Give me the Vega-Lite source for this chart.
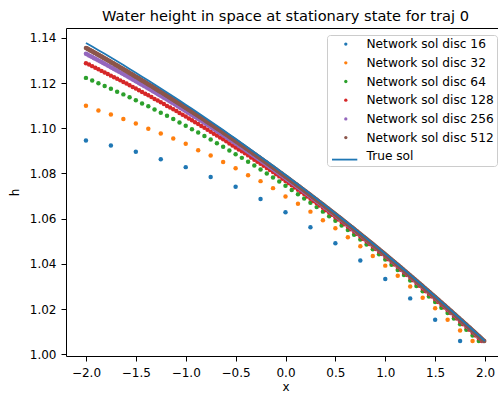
{
"$schema": "https://vega.github.io/schema/vega-lite/v6.json",
"width": 439, "height": 328,
"autosize": {"type": "none"},
"padding": {"left": 66, "top": 28, "right": 0, "bottom": 38},
"background": "white",
"title": {"text": "Water height in space at stationary state for traj 0", "font": "DejaVu Sans", "fontSize": 14.6, "fontWeight": "normal", "color": "black", "anchor": "middle", "offset": 4.5},
"datasets": {
"n16": [{"x":-2,"h":1.0946},{"x":-1.75,"h":1.0924},{"x":-1.5,"h":1.0896},{"x":-1.25,"h":1.0863},{"x":-1,"h":1.0828},{"x":-0.75,"h":1.0784},{"x":-0.5,"h":1.0741},{"x":-0.25,"h":1.0687},{"x":0,"h":1.0628},{"x":0.25,"h":1.0562},{"x":0.5,"h":1.0491},{"x":0.75,"h":1.0415},{"x":1,"h":1.0333},{"x":1.25,"h":1.0247},{"x":1.5,"h":1.0152},{"x":1.75,"h":1.0058}],
"n32": [{"x":-2,"h":1.1100},{"x":-1.875,"h":1.1079},{"x":-1.75,"h":1.1061},{"x":-1.625,"h":1.1041},{"x":-1.5,"h":1.1021},{"x":-1.375,"h":1.0998},{"x":-1.25,"h":1.0977},{"x":-1.125,"h":1.0955},{"x":-1,"h":1.0931},{"x":-0.875,"h":1.0903},{"x":-0.75,"h":1.0879},{"x":-0.625,"h":1.0851},{"x":-0.5,"h":1.0823},{"x":-0.375,"h":1.0792},{"x":-0.25,"h":1.0766},{"x":-0.125,"h":1.0735},{"x":0,"h":1.0698},{"x":0.125,"h":1.0666},{"x":0.25,"h":1.0631},{"x":0.375,"h":1.0593},{"x":0.5,"h":1.0557},{"x":0.625,"h":1.0518},{"x":0.75,"h":1.0478},{"x":0.875,"h":1.0435},{"x":1,"h":1.0392},{"x":1.125,"h":1.0347},{"x":1.25,"h":1.0300},{"x":1.375,"h":1.0250},{"x":1.5,"h":1.0203},{"x":1.625,"h":1.0152},{"x":1.75,"h":1.0105},{"x":1.875,"h":1.0058}],
"n64": [{"x":-2,"h":1.1223},{"x":-1.9375,"h":1.1211},{"x":-1.875,"h":1.1199},{"x":-1.8125,"h":1.1187},{"x":-1.75,"h":1.1175},{"x":-1.6875,"h":1.1162},{"x":-1.625,"h":1.1150},{"x":-1.5625,"h":1.1137},{"x":-1.5,"h":1.1124},{"x":-1.4375,"h":1.1110},{"x":-1.375,"h":1.1097},{"x":-1.3125,"h":1.1083},{"x":-1.25,"h":1.1069},{"x":-1.1875,"h":1.1055},{"x":-1.125,"h":1.1041},{"x":-1.0625,"h":1.1026},{"x":-1,"h":1.1011},{"x":-0.9375,"h":1.0996},{"x":-0.875,"h":1.0981},{"x":-0.8125,"h":1.0966},{"x":-0.75,"h":1.0950},{"x":-0.6875,"h":1.0934},{"x":-0.625,"h":1.0918},{"x":-0.5625,"h":1.0902},{"x":-0.5,"h":1.0885},{"x":-0.4375,"h":1.0869},{"x":-0.375,"h":1.0852},{"x":-0.3125,"h":1.0835},{"x":-0.25,"h":1.0817},{"x":-0.1875,"h":1.0800},{"x":-0.125,"h":1.0782},{"x":-0.0625,"h":1.0764},{"x":0,"h":1.0746},{"x":0.0625,"h":1.0727},{"x":0.125,"h":1.0708},{"x":0.1875,"h":1.0689},{"x":0.25,"h":1.0670},{"x":0.3125,"h":1.0651},{"x":0.375,"h":1.0631},{"x":0.4375,"h":1.0611},{"x":0.5,"h":1.0591},{"x":0.5625,"h":1.0570},{"x":0.625,"h":1.0550},{"x":0.6875,"h":1.0529},{"x":0.75,"h":1.0508},{"x":0.8125,"h":1.0486},{"x":0.875,"h":1.0464},{"x":0.9375,"h":1.0442},{"x":1,"h":1.0419},{"x":1.0625,"h":1.0396},{"x":1.125,"h":1.0373},{"x":1.1875,"h":1.0350},{"x":1.25,"h":1.0326},{"x":1.3125,"h":1.0302},{"x":1.375,"h":1.0279},{"x":1.4375,"h":1.0255},{"x":1.5,"h":1.0231},{"x":1.5625,"h":1.0206},{"x":1.625,"h":1.0182},{"x":1.6875,"h":1.0158},{"x":1.75,"h":1.0133},{"x":1.8125,"h":1.0108},{"x":1.875,"h":1.0083},{"x":1.9375,"h":1.0058}],
"n128": [{"x":-2,"h":1.1288},{"x":-1.96875,"h":1.1282},{"x":-1.9375,"h":1.1275},{"x":-1.90625,"h":1.1268},{"x":-1.875,"h":1.1261},{"x":-1.84375,"h":1.1254},{"x":-1.8125,"h":1.1247},{"x":-1.78125,"h":1.1240},{"x":-1.75,"h":1.1233},{"x":-1.71875,"h":1.1226},{"x":-1.6875,"h":1.1219},{"x":-1.65625,"h":1.1212},{"x":-1.625,"h":1.1205},{"x":-1.59375,"h":1.1198},{"x":-1.5625,"h":1.1190},{"x":-1.53125,"h":1.1183},{"x":-1.5,"h":1.1176},{"x":-1.46875,"h":1.1168},{"x":-1.4375,"h":1.1161},{"x":-1.40625,"h":1.1153},{"x":-1.375,"h":1.1146},{"x":-1.34375,"h":1.1138},{"x":-1.3125,"h":1.1130},{"x":-1.28125,"h":1.1123},{"x":-1.25,"h":1.1115},{"x":-1.21875,"h":1.1107},{"x":-1.1875,"h":1.1099},{"x":-1.15625,"h":1.1092},{"x":-1.125,"h":1.1084},{"x":-1.09375,"h":1.1076},{"x":-1.0625,"h":1.1068},{"x":-1.03125,"h":1.1060},{"x":-1,"h":1.1052},{"x":-0.96875,"h":1.1043},{"x":-0.9375,"h":1.1035},{"x":-0.90625,"h":1.1027},{"x":-0.875,"h":1.1019},{"x":-0.84375,"h":1.1010},{"x":-0.8125,"h":1.1002},{"x":-0.78125,"h":1.0993},{"x":-0.75,"h":1.0985},{"x":-0.71875,"h":1.0976},{"x":-0.6875,"h":1.0968},{"x":-0.65625,"h":1.0959},{"x":-0.625,"h":1.0951},{"x":-0.59375,"h":1.0942},{"x":-0.5625,"h":1.0933},{"x":-0.53125,"h":1.0924},{"x":-0.5,"h":1.0915},{"x":-0.46875,"h":1.0906},{"x":-0.4375,"h":1.0898},{"x":-0.40625,"h":1.0889},{"x":-0.375,"h":1.0880},{"x":-0.34375,"h":1.0870},{"x":-0.3125,"h":1.0861},{"x":-0.28125,"h":1.0852},{"x":-0.25,"h":1.0843},{"x":-0.21875,"h":1.0834},{"x":-0.1875,"h":1.0824},{"x":-0.15625,"h":1.0815},{"x":-0.125,"h":1.0806},{"x":-0.09375,"h":1.0796},{"x":-0.0625,"h":1.0787},{"x":-0.03125,"h":1.0777},{"x":0,"h":1.0767},{"x":0.03125,"h":1.0758},{"x":0.0625,"h":1.0748},{"x":0.09375,"h":1.0738},{"x":0.125,"h":1.0728},{"x":0.15625,"h":1.0718},{"x":0.1875,"h":1.0709},{"x":0.21875,"h":1.0698},{"x":0.25,"h":1.0688},{"x":0.28125,"h":1.0678},{"x":0.3125,"h":1.0668},{"x":0.34375,"h":1.0658},{"x":0.375,"h":1.0648},{"x":0.40625,"h":1.0637},{"x":0.4375,"h":1.0627},{"x":0.46875,"h":1.0617},{"x":0.5,"h":1.0606},{"x":0.53125,"h":1.0596},{"x":0.5625,"h":1.0585},{"x":0.59375,"h":1.0575},{"x":0.625,"h":1.0564},{"x":0.65625,"h":1.0553},{"x":0.6875,"h":1.0543},{"x":0.71875,"h":1.0532},{"x":0.75,"h":1.0521},{"x":0.78125,"h":1.0510},{"x":0.8125,"h":1.0499},{"x":0.84375,"h":1.0488},{"x":0.875,"h":1.0477},{"x":0.90625,"h":1.0466},{"x":0.9375,"h":1.0454},{"x":0.96875,"h":1.0443},{"x":1,"h":1.0432},{"x":1.03125,"h":1.0420},{"x":1.0625,"h":1.0409},{"x":1.09375,"h":1.0397},{"x":1.125,"h":1.0386},{"x":1.15625,"h":1.0374},{"x":1.1875,"h":1.0362},{"x":1.21875,"h":1.0350},{"x":1.25,"h":1.0339},{"x":1.28125,"h":1.0327},{"x":1.3125,"h":1.0315},{"x":1.34375,"h":1.0303},{"x":1.375,"h":1.0291},{"x":1.40625,"h":1.0279},{"x":1.4375,"h":1.0267},{"x":1.46875,"h":1.0255},{"x":1.5,"h":1.0243},{"x":1.53125,"h":1.0231},{"x":1.5625,"h":1.0219},{"x":1.59375,"h":1.0207},{"x":1.625,"h":1.0195},{"x":1.65625,"h":1.0182},{"x":1.6875,"h":1.0170},{"x":1.71875,"h":1.0158},{"x":1.75,"h":1.0145},{"x":1.78125,"h":1.0133},{"x":1.8125,"h":1.0121},{"x":1.84375,"h":1.0108},{"x":1.875,"h":1.0096},{"x":1.90625,"h":1.0083},{"x":1.9375,"h":1.0071},{"x":1.96875,"h":1.0058}],
"n256": [{"x":-2,"h":1.13298},{"x":-1.9844,"h":1.13262},{"x":-1.9688,"h":1.13225},{"x":-1.9531,"h":1.13189},{"x":-1.9375,"h":1.13152},{"x":-1.9219,"h":1.13115},{"x":-1.9063,"h":1.13079},{"x":-1.8906,"h":1.13042},{"x":-1.875,"h":1.13005},{"x":-1.8594,"h":1.12968},{"x":-1.8438,"h":1.1293},{"x":-1.8281,"h":1.12893},{"x":-1.8125,"h":1.12855},{"x":-1.7969,"h":1.12817},{"x":-1.7813,"h":1.1278},{"x":-1.7656,"h":1.12742},{"x":-1.75,"h":1.12704},{"x":-1.7344,"h":1.12666},{"x":-1.7188,"h":1.12628},{"x":-1.7031,"h":1.12589},{"x":-1.6875,"h":1.12551},{"x":-1.6719,"h":1.12513},{"x":-1.6563,"h":1.12474},{"x":-1.6406,"h":1.12436},{"x":-1.625,"h":1.12397},{"x":-1.6094,"h":1.12358},{"x":-1.5938,"h":1.12319},{"x":-1.5781,"h":1.1228},{"x":-1.5625,"h":1.12241},{"x":-1.5469,"h":1.12202},{"x":-1.5313,"h":1.12162},{"x":-1.5156,"h":1.12123},{"x":-1.5,"h":1.12083},{"x":-1.4844,"h":1.12043},{"x":-1.4688,"h":1.12004},{"x":-1.4531,"h":1.11964},{"x":-1.4375,"h":1.11924},{"x":-1.4219,"h":1.11884},{"x":-1.4063,"h":1.11844},{"x":-1.3906,"h":1.11803},{"x":-1.375,"h":1.11763},{"x":-1.3594,"h":1.11722},{"x":-1.3438,"h":1.11682},{"x":-1.3281,"h":1.11641},{"x":-1.3125,"h":1.116},{"x":-1.2969,"h":1.11559},{"x":-1.2813,"h":1.11518},{"x":-1.2656,"h":1.11477},{"x":-1.25,"h":1.11436},{"x":-1.2344,"h":1.11395},{"x":-1.2188,"h":1.11354},{"x":-1.2031,"h":1.11312},{"x":-1.1875,"h":1.11271},{"x":-1.1719,"h":1.11229},{"x":-1.1563,"h":1.11187},{"x":-1.1406,"h":1.11145},{"x":-1.125,"h":1.11103},{"x":-1.1094,"h":1.11061},{"x":-1.0938,"h":1.11018},{"x":-1.0781,"h":1.10976},{"x":-1.0625,"h":1.10933},{"x":-1.0469,"h":1.1089},{"x":-1.0313,"h":1.10848},{"x":-1.0156,"h":1.10805},{"x":-1,"h":1.10762},{"x":-0.9844,"h":1.10719},{"x":-0.9688,"h":1.10676},{"x":-0.9531,"h":1.10633},{"x":-0.9375,"h":1.1059},{"x":-0.9219,"h":1.10547},{"x":-0.9063,"h":1.10503},{"x":-0.8906,"h":1.1046},{"x":-0.875,"h":1.10416},{"x":-0.8594,"h":1.10372},{"x":-0.8438,"h":1.10328},{"x":-0.8281,"h":1.10283},{"x":-0.8125,"h":1.10239},{"x":-0.7969,"h":1.10195},{"x":-0.7813,"h":1.10151},{"x":-0.7656,"h":1.10106},{"x":-0.75,"h":1.10062},{"x":-0.7344,"h":1.10017},{"x":-0.7188,"h":1.09973},{"x":-0.7031,"h":1.09928},{"x":-0.6875,"h":1.09883},{"x":-0.6719,"h":1.09838},{"x":-0.6563,"h":1.09792},{"x":-0.6406,"h":1.09747},{"x":-0.625,"h":1.09701},{"x":-0.6094,"h":1.09656},{"x":-0.5938,"h":1.0961},{"x":-0.5781,"h":1.09565},{"x":-0.5625,"h":1.09519},{"x":-0.5469,"h":1.09473},{"x":-0.5313,"h":1.09426},{"x":-0.5156,"h":1.0938},{"x":-0.5,"h":1.09334},{"x":-0.4844,"h":1.09288},{"x":-0.4688,"h":1.09242},{"x":-0.4531,"h":1.09195},{"x":-0.4375,"h":1.09149},{"x":-0.4219,"h":1.09102},{"x":-0.4063,"h":1.09055},{"x":-0.3906,"h":1.09007},{"x":-0.375,"h":1.0896},{"x":-0.3594,"h":1.08913},{"x":-0.3438,"h":1.08866},{"x":-0.3281,"h":1.08818},{"x":-0.3125,"h":1.08771},{"x":-0.2969,"h":1.08723},{"x":-0.2813,"h":1.08676},{"x":-0.2656,"h":1.08628},{"x":-0.25,"h":1.0858},{"x":-0.2344,"h":1.08532},{"x":-0.2188,"h":1.08484},{"x":-0.2031,"h":1.08435},{"x":-0.1875,"h":1.08387},{"x":-0.1719,"h":1.08339},{"x":-0.1563,"h":1.0829},{"x":-0.1406,"h":1.08242},{"x":-0.125,"h":1.08193},{"x":-0.1094,"h":1.08144},{"x":-0.0938,"h":1.08095},{"x":-0.0781,"h":1.08045},{"x":-0.0625,"h":1.07996},{"x":-0.0469,"h":1.07947},{"x":-0.0313,"h":1.07897},{"x":-0.0156,"h":1.07848},{"x":0,"h":1.07798},{"x":0.0156,"h":1.07748},{"x":0.0313,"h":1.07698},{"x":0.0469,"h":1.07648},{"x":0.0625,"h":1.07598},{"x":0.0781,"h":1.07548},{"x":0.0938,"h":1.07497},{"x":0.1094,"h":1.07447},{"x":0.125,"h":1.07396},{"x":0.1406,"h":1.07345},{"x":0.1563,"h":1.07295},{"x":0.1719,"h":1.07244},{"x":0.1875,"h":1.07193},{"x":0.2031,"h":1.07142},{"x":0.2188,"h":1.0709},{"x":0.2344,"h":1.07039},{"x":0.25,"h":1.06987},{"x":0.2656,"h":1.06935},{"x":0.2813,"h":1.06884},{"x":0.2969,"h":1.06832},{"x":0.3125,"h":1.0678},{"x":0.3281,"h":1.06728},{"x":0.3438,"h":1.06676},{"x":0.3594,"h":1.06624},{"x":0.375,"h":1.06572},{"x":0.3906,"h":1.06519},{"x":0.4063,"h":1.06467},{"x":0.4219,"h":1.06414},{"x":0.4375,"h":1.06361},{"x":0.4531,"h":1.06308},{"x":0.4688,"h":1.06255},{"x":0.4844,"h":1.06202},{"x":0.5,"h":1.06149},{"x":0.5156,"h":1.06096},{"x":0.5313,"h":1.06042},{"x":0.5469,"h":1.05989},{"x":0.5625,"h":1.05935},{"x":0.5781,"h":1.05881},{"x":0.5938,"h":1.05827},{"x":0.6094,"h":1.05773},{"x":0.625,"h":1.05719},{"x":0.6406,"h":1.05665},{"x":0.6563,"h":1.0561},{"x":0.6719,"h":1.05556},{"x":0.6875,"h":1.05501},{"x":0.7031,"h":1.05446},{"x":0.7188,"h":1.05391},{"x":0.7344,"h":1.05336},{"x":0.75,"h":1.05281},{"x":0.7656,"h":1.05226},{"x":0.7813,"h":1.05171},{"x":0.7969,"h":1.05115},{"x":0.8125,"h":1.0506},{"x":0.8281,"h":1.05004},{"x":0.8438,"h":1.04948},{"x":0.8594,"h":1.04892},{"x":0.875,"h":1.04836},{"x":0.8906,"h":1.0478},{"x":0.9063,"h":1.04723},{"x":0.9219,"h":1.04667},{"x":0.9375,"h":1.0461},{"x":0.9531,"h":1.04553},{"x":0.9688,"h":1.04496},{"x":0.9844,"h":1.04439},{"x":1,"h":1.04382},{"x":1.0156,"h":1.04325},{"x":1.0313,"h":1.04267},{"x":1.0469,"h":1.0421},{"x":1.0625,"h":1.04152},{"x":1.0781,"h":1.04094},{"x":1.0938,"h":1.04036},{"x":1.1094,"h":1.03978},{"x":1.125,"h":1.0392},{"x":1.1406,"h":1.03862},{"x":1.1563,"h":1.03803},{"x":1.1719,"h":1.03745},{"x":1.1875,"h":1.03686},{"x":1.2031,"h":1.03627},{"x":1.2188,"h":1.03569},{"x":1.2344,"h":1.0351},{"x":1.25,"h":1.03451},{"x":1.2656,"h":1.03392},{"x":1.2813,"h":1.03333},{"x":1.2969,"h":1.03274},{"x":1.3125,"h":1.03215},{"x":1.3281,"h":1.03156},{"x":1.3438,"h":1.03096},{"x":1.3594,"h":1.03037},{"x":1.375,"h":1.02977},{"x":1.3906,"h":1.02917},{"x":1.4063,"h":1.02858},{"x":1.4219,"h":1.02798},{"x":1.4375,"h":1.02738},{"x":1.4531,"h":1.02678},{"x":1.4688,"h":1.02618},{"x":1.4844,"h":1.02557},{"x":1.5,"h":1.02497},{"x":1.5156,"h":1.02437},{"x":1.5313,"h":1.02376},{"x":1.5469,"h":1.02316},{"x":1.5625,"h":1.02255},{"x":1.5781,"h":1.02194},{"x":1.5938,"h":1.02133},{"x":1.6094,"h":1.02072},{"x":1.625,"h":1.02011},{"x":1.6406,"h":1.0195},{"x":1.6563,"h":1.01889},{"x":1.6719,"h":1.01827},{"x":1.6875,"h":1.01766},{"x":1.7031,"h":1.01704},{"x":1.7188,"h":1.01643},{"x":1.7344,"h":1.01581},{"x":1.75,"h":1.01519},{"x":1.7656,"h":1.01457},{"x":1.7813,"h":1.01395},{"x":1.7969,"h":1.01333},{"x":1.8125,"h":1.01271},{"x":1.8281,"h":1.01209},{"x":1.8438,"h":1.01147},{"x":1.8594,"h":1.01084},{"x":1.875,"h":1.01022},{"x":1.8906,"h":1.00959},{"x":1.9063,"h":1.00896},{"x":1.9219,"h":1.00834},{"x":1.9375,"h":1.00771},{"x":1.9531,"h":1.00708},{"x":1.9688,"h":1.00645},{"x":1.9844,"h":1.00581}],
"n512": [{"x":-2,"h":1.13558},{"x":-1.9922,"h":1.13539},{"x":-1.9844,"h":1.13519},{"x":-1.9766,"h":1.135},{"x":-1.9688,"h":1.13481},{"x":-1.9609,"h":1.13462},{"x":-1.9531,"h":1.13442},{"x":-1.9453,"h":1.13423},
{"x":-1.9375,"h":1.13404},{"x":-1.9297,"h":1.13385},{"x":-1.9219,"h":1.13365},{"x":-1.9141,"h":1.13346},{"x":-1.9063,"h":1.13327},{"x":-1.8984,"h":1.13308},{"x":-1.8906,"h":1.13288},{"x":-1.8828,"h":1.13269},
{"x":-1.875,"h":1.1325},{"x":-1.8672,"h":1.1323},{"x":-1.8594,"h":1.13211},{"x":-1.8516,"h":1.13191},{"x":-1.8438,"h":1.13172},{"x":-1.8359,"h":1.13152},{"x":-1.8281,"h":1.13132},{"x":-1.8203,"h":1.13113},
{"x":-1.8125,"h":1.13093},{"x":-1.8047,"h":1.13073},{"x":-1.7969,"h":1.13053},{"x":-1.7891,"h":1.13033},{"x":-1.7813,"h":1.13014},{"x":-1.7734,"h":1.12994},{"x":-1.7656,"h":1.12974},{"x":-1.7578,"h":1.12954},
{"x":-1.75,"h":1.12934},{"x":-1.7422,"h":1.12914},{"x":-1.7344,"h":1.12894},{"x":-1.7266,"h":1.12874},{"x":-1.7188,"h":1.12854},{"x":-1.7109,"h":1.12834},{"x":-1.7031,"h":1.12814},{"x":-1.6953,"h":1.12794},
{"x":-1.6875,"h":1.12774},{"x":-1.6797,"h":1.12754},{"x":-1.6719,"h":1.12734},{"x":-1.6641,"h":1.12714},{"x":-1.6563,"h":1.12694},{"x":-1.6484,"h":1.12673},{"x":-1.6406,"h":1.12653},{"x":-1.6328,"h":1.12633},
{"x":-1.625,"h":1.12613},{"x":-1.6172,"h":1.12593},{"x":-1.6094,"h":1.12572},{"x":-1.6016,"h":1.12552},{"x":-1.5938,"h":1.12531},{"x":-1.5859,"h":1.12511},{"x":-1.5781,"h":1.1249},{"x":-1.5703,"h":1.1247},
{"x":-1.5625,"h":1.12449},{"x":-1.5547,"h":1.12429},{"x":-1.5469,"h":1.12408},{"x":-1.5391,"h":1.12388},{"x":-1.5313,"h":1.12367},{"x":-1.5234,"h":1.12347},{"x":-1.5156,"h":1.12326},{"x":-1.5078,"h":1.12306},
{"x":-1.5,"h":1.12285},{"x":-1.4922,"h":1.12264},{"x":-1.4844,"h":1.12243},{"x":-1.4766,"h":1.12223},{"x":-1.4688,"h":1.12202},{"x":-1.4609,"h":1.12181},{"x":-1.4531,"h":1.1216},{"x":-1.4453,"h":1.1214},
{"x":-1.4375,"h":1.12119},{"x":-1.4297,"h":1.12098},{"x":-1.4219,"h":1.12077},{"x":-1.4141,"h":1.12056},{"x":-1.4063,"h":1.12035},{"x":-1.3984,"h":1.12014},{"x":-1.3906,"h":1.11993},{"x":-1.3828,"h":1.11972},
{"x":-1.375,"h":1.11951},{"x":-1.3672,"h":1.1193},{"x":-1.3594,"h":1.11909},{"x":-1.3516,"h":1.11888},{"x":-1.3438,"h":1.11867},{"x":-1.3359,"h":1.11846},{"x":-1.3281,"h":1.11824},{"x":-1.3203,"h":1.11803},
{"x":-1.3125,"h":1.11782},{"x":-1.3047,"h":1.11761},{"x":-1.2969,"h":1.11739},{"x":-1.2891,"h":1.11718},{"x":-1.2813,"h":1.11697},{"x":-1.2734,"h":1.11675},{"x":-1.2656,"h":1.11654},{"x":-1.2578,"h":1.11632},
{"x":-1.25,"h":1.11611},{"x":-1.2422,"h":1.1159},{"x":-1.2344,"h":1.11568},{"x":-1.2266,"h":1.11547},{"x":-1.2188,"h":1.11525},{"x":-1.2109,"h":1.11504},{"x":-1.2031,"h":1.11482},{"x":-1.1953,"h":1.11461},
{"x":-1.1875,"h":1.11439},{"x":-1.1797,"h":1.11417},{"x":-1.1719,"h":1.11396},{"x":-1.1641,"h":1.11374},{"x":-1.1563,"h":1.11353},{"x":-1.1484,"h":1.11331},{"x":-1.1406,"h":1.11309},{"x":-1.1328,"h":1.11288},
{"x":-1.125,"h":1.11266},{"x":-1.1172,"h":1.11244},{"x":-1.1094,"h":1.11222},{"x":-1.1016,"h":1.112},{"x":-1.0938,"h":1.11178},{"x":-1.0859,"h":1.11156},{"x":-1.0781,"h":1.11134},{"x":-1.0703,"h":1.11112},
{"x":-1.0625,"h":1.1109},{"x":-1.0547,"h":1.11068},{"x":-1.0469,"h":1.11046},{"x":-1.0391,"h":1.11024},{"x":-1.0313,"h":1.11002},{"x":-1.0234,"h":1.10979},{"x":-1.0156,"h":1.10957},{"x":-1.0078,"h":1.10935},
{"x":-1,"h":1.10913},{"x":-0.9922,"h":1.10891},{"x":-0.9844,"h":1.10868},{"x":-0.9766,"h":1.10846},{"x":-0.9688,"h":1.10824},{"x":-0.9609,"h":1.10802},{"x":-0.9531,"h":1.10779},{"x":-0.9453,"h":1.10757},
{"x":-0.9375,"h":1.10735},{"x":-0.9297,"h":1.10712},{"x":-0.9219,"h":1.1069},{"x":-0.9141,"h":1.10667},{"x":-0.9063,"h":1.10645},{"x":-0.8984,"h":1.10622},{"x":-0.8906,"h":1.10599},{"x":-0.8828,"h":1.10577},
{"x":-0.875,"h":1.10554},{"x":-0.8672,"h":1.10531},{"x":-0.8594,"h":1.10508},{"x":-0.8516,"h":1.10486},{"x":-0.8438,"h":1.10463},{"x":-0.8359,"h":1.1044},{"x":-0.8281,"h":1.10417},{"x":-0.8203,"h":1.10394},
{"x":-0.8125,"h":1.10372},{"x":-0.8047,"h":1.10349},{"x":-0.7969,"h":1.10326},{"x":-0.7891,"h":1.10303},{"x":-0.7813,"h":1.1028},{"x":-0.7734,"h":1.10257},{"x":-0.7656,"h":1.10235},{"x":-0.7578,"h":1.10212},
{"x":-0.75,"h":1.10189},{"x":-0.7422,"h":1.10166},{"x":-0.7344,"h":1.10143},{"x":-0.7266,"h":1.1012},{"x":-0.7188,"h":1.10097},{"x":-0.7109,"h":1.10073},{"x":-0.7031,"h":1.1005},{"x":-0.6953,"h":1.10027},
{"x":-0.6875,"h":1.10004},{"x":-0.6797,"h":1.09981},{"x":-0.6719,"h":1.09957},{"x":-0.6641,"h":1.09934},{"x":-0.6563,"h":1.09911},{"x":-0.6484,"h":1.09888},{"x":-0.6406,"h":1.09864},{"x":-0.6328,"h":1.09841},
{"x":-0.625,"h":1.09818},{"x":-0.6172,"h":1.09795},{"x":-0.6094,"h":1.09771},{"x":-0.6016,"h":1.09748},{"x":-0.5938,"h":1.09724},{"x":-0.5859,"h":1.09701},{"x":-0.5781,"h":1.09677},{"x":-0.5703,"h":1.09654},
{"x":-0.5625,"h":1.0963},{"x":-0.5547,"h":1.09606},{"x":-0.5469,"h":1.09582},{"x":-0.5391,"h":1.09559},{"x":-0.5313,"h":1.09535},{"x":-0.5234,"h":1.09511},{"x":-0.5156,"h":1.09487},{"x":-0.5078,"h":1.09463},
{"x":-0.5,"h":1.0944},{"x":-0.4922,"h":1.09416},{"x":-0.4844,"h":1.09392},{"x":-0.4766,"h":1.09368},{"x":-0.4688,"h":1.09344},{"x":-0.4609,"h":1.0932},{"x":-0.4531,"h":1.09297},{"x":-0.4453,"h":1.09273},
{"x":-0.4375,"h":1.09249},{"x":-0.4297,"h":1.09225},{"x":-0.4219,"h":1.09201},{"x":-0.4141,"h":1.09177},{"x":-0.4063,"h":1.09153},{"x":-0.3984,"h":1.09128},{"x":-0.3906,"h":1.09104},{"x":-0.3828,"h":1.0908},
{"x":-0.375,"h":1.09056},{"x":-0.3672,"h":1.09032},{"x":-0.3594,"h":1.09007},{"x":-0.3516,"h":1.08983},{"x":-0.3438,"h":1.08959},{"x":-0.3359,"h":1.08935},{"x":-0.3281,"h":1.0891},{"x":-0.3203,"h":1.08886},
{"x":-0.3125,"h":1.08862},{"x":-0.3047,"h":1.08838},{"x":-0.2969,"h":1.08813},{"x":-0.2891,"h":1.08789},{"x":-0.2813,"h":1.08764},{"x":-0.2734,"h":1.0874},{"x":-0.2656,"h":1.08715},{"x":-0.2578,"h":1.08691},
{"x":-0.25,"h":1.08666},{"x":-0.2422,"h":1.08641},{"x":-0.2344,"h":1.08617},{"x":-0.2266,"h":1.08592},{"x":-0.2188,"h":1.08568},{"x":-0.2109,"h":1.08543},{"x":-0.2031,"h":1.08518},{"x":-0.1953,"h":1.08494},
{"x":-0.1875,"h":1.08469},{"x":-0.1797,"h":1.08444},{"x":-0.1719,"h":1.08419},{"x":-0.1641,"h":1.08394},{"x":-0.1563,"h":1.08369},{"x":-0.1484,"h":1.08345},{"x":-0.1406,"h":1.0832},{"x":-0.1328,"h":1.08295},
{"x":-0.125,"h":1.0827},{"x":-0.1172,"h":1.08245},{"x":-0.1094,"h":1.0822},{"x":-0.1016,"h":1.08195},{"x":-0.0938,"h":1.0817},{"x":-0.0859,"h":1.08145},{"x":-0.0781,"h":1.0812},{"x":-0.0703,"h":1.08095},
{"x":-0.0625,"h":1.0807},{"x":-0.0547,"h":1.08045},{"x":-0.0469,"h":1.08019},{"x":-0.0391,"h":1.07994},{"x":-0.0313,"h":1.07968},{"x":-0.0234,"h":1.07943},{"x":-0.0156,"h":1.07918},{"x":-0.0078,"h":1.07892},
{"x":0,"h":1.07867},{"x":0.0078,"h":1.07842},{"x":0.0156,"h":1.07816},{"x":0.0234,"h":1.07791},{"x":0.0313,"h":1.07765},{"x":0.0391,"h":1.0774},{"x":0.0469,"h":1.07714},{"x":0.0547,"h":1.07689},
{"x":0.0625,"h":1.07663},{"x":0.0703,"h":1.07638},{"x":0.0781,"h":1.07612},{"x":0.0859,"h":1.07587},{"x":0.0938,"h":1.07561},{"x":0.1016,"h":1.07536},{"x":0.1094,"h":1.0751},{"x":0.1172,"h":1.07485},
{"x":0.125,"h":1.07459},{"x":0.1328,"h":1.07433},{"x":0.1406,"h":1.07407},{"x":0.1484,"h":1.07381},{"x":0.1563,"h":1.07355},{"x":0.1641,"h":1.07329},{"x":0.1719,"h":1.07303},{"x":0.1797,"h":1.07277},
{"x":0.1875,"h":1.07251},{"x":0.1953,"h":1.07225},{"x":0.2031,"h":1.07199},{"x":0.2109,"h":1.07173},{"x":0.2188,"h":1.07147},{"x":0.2266,"h":1.0712},{"x":0.2344,"h":1.07094},{"x":0.2422,"h":1.07068},
{"x":0.25,"h":1.07042},{"x":0.2578,"h":1.07016},{"x":0.2656,"h":1.06989},{"x":0.2734,"h":1.06963},{"x":0.2813,"h":1.06937},{"x":0.2891,"h":1.06911},{"x":0.2969,"h":1.06884},{"x":0.3047,"h":1.06858},
{"x":0.3125,"h":1.06832},{"x":0.3203,"h":1.06806},{"x":0.3281,"h":1.06779},{"x":0.3359,"h":1.06753},{"x":0.3438,"h":1.06726},{"x":0.3516,"h":1.067},{"x":0.3594,"h":1.06674},{"x":0.3672,"h":1.06647},
{"x":0.375,"h":1.06621},{"x":0.3828,"h":1.06594},{"x":0.3906,"h":1.06567},{"x":0.3984,"h":1.0654},{"x":0.4063,"h":1.06514},{"x":0.4141,"h":1.06487},{"x":0.4219,"h":1.0646},{"x":0.4297,"h":1.06433},
{"x":0.4375,"h":1.06407},{"x":0.4453,"h":1.0638},{"x":0.4531,"h":1.06353},{"x":0.4609,"h":1.06326},{"x":0.4688,"h":1.06299},{"x":0.4766,"h":1.06272},{"x":0.4844,"h":1.06246},{"x":0.4922,"h":1.06219},
{"x":0.5,"h":1.06192},{"x":0.5078,"h":1.06165},{"x":0.5156,"h":1.06138},{"x":0.5234,"h":1.06111},{"x":0.5313,"h":1.06084},{"x":0.5391,"h":1.06057},{"x":0.5469,"h":1.06029},{"x":0.5547,"h":1.06002},
{"x":0.5625,"h":1.05975},{"x":0.5703,"h":1.05948},{"x":0.5781,"h":1.0592},{"x":0.5859,"h":1.05893},{"x":0.5938,"h":1.05866},{"x":0.6016,"h":1.05839},{"x":0.6094,"h":1.05811},{"x":0.6172,"h":1.05784},
{"x":0.625,"h":1.05757},{"x":0.6328,"h":1.0573},{"x":0.6406,"h":1.05702},{"x":0.6484,"h":1.05675},{"x":0.6563,"h":1.05647},{"x":0.6641,"h":1.0562},{"x":0.6719,"h":1.05592},{"x":0.6797,"h":1.05565},
{"x":0.6875,"h":1.05537},{"x":0.6953,"h":1.05509},{"x":0.7031,"h":1.05481},{"x":0.7109,"h":1.05454},{"x":0.7188,"h":1.05426},{"x":0.7266,"h":1.05398},{"x":0.7344,"h":1.0537},{"x":0.7422,"h":1.05342},
{"x":0.75,"h":1.05315},{"x":0.7578,"h":1.05287},{"x":0.7656,"h":1.05259},{"x":0.7734,"h":1.05232},{"x":0.7813,"h":1.05204},{"x":0.7891,"h":1.05176},{"x":0.7969,"h":1.05148},{"x":0.8047,"h":1.0512},
{"x":0.8125,"h":1.05093},{"x":0.8203,"h":1.05065},{"x":0.8281,"h":1.05037},{"x":0.8359,"h":1.05009},{"x":0.8438,"h":1.04981},{"x":0.8516,"h":1.04952},{"x":0.8594,"h":1.04924},{"x":0.8672,"h":1.04896},
{"x":0.875,"h":1.04868},{"x":0.8828,"h":1.0484},{"x":0.8906,"h":1.04811},{"x":0.8984,"h":1.04783},{"x":0.9063,"h":1.04754},{"x":0.9141,"h":1.04726},{"x":0.9219,"h":1.04698},{"x":0.9297,"h":1.04669},
{"x":0.9375,"h":1.04641},{"x":0.9453,"h":1.04612},{"x":0.9531,"h":1.04584},{"x":0.9609,"h":1.04555},{"x":0.9688,"h":1.04527},{"x":0.9766,"h":1.04498},{"x":0.9844,"h":1.04469},{"x":0.9922,"h":1.04441},
{"x":1,"h":1.04412},{"x":1.0078,"h":1.04383},{"x":1.0156,"h":1.04354},{"x":1.0234,"h":1.04326},{"x":1.0313,"h":1.04297},{"x":1.0391,"h":1.04268},{"x":1.0469,"h":1.04239},{"x":1.0547,"h":1.0421},
{"x":1.0625,"h":1.04182},{"x":1.0703,"h":1.04153},{"x":1.0781,"h":1.04124},{"x":1.0859,"h":1.04095},{"x":1.0938,"h":1.04066},{"x":1.1016,"h":1.04037},{"x":1.1094,"h":1.04008},{"x":1.1172,"h":1.03979},
{"x":1.125,"h":1.0395},{"x":1.1328,"h":1.03921},{"x":1.1406,"h":1.03891},{"x":1.1484,"h":1.03862},{"x":1.1563,"h":1.03833},{"x":1.1641,"h":1.03804},{"x":1.1719,"h":1.03774},{"x":1.1797,"h":1.03745},
{"x":1.1875,"h":1.03716},{"x":1.1953,"h":1.03687},{"x":1.2031,"h":1.03657},{"x":1.2109,"h":1.03628},{"x":1.2188,"h":1.03598},{"x":1.2266,"h":1.03569},{"x":1.2344,"h":1.0354},{"x":1.2422,"h":1.0351},
{"x":1.25,"h":1.03481},{"x":1.2578,"h":1.03452},{"x":1.2656,"h":1.03422},{"x":1.2734,"h":1.03393},{"x":1.2813,"h":1.03363},{"x":1.2891,"h":1.03334},{"x":1.2969,"h":1.03304},{"x":1.3047,"h":1.03275},
{"x":1.3125,"h":1.03245},{"x":1.3203,"h":1.03215},{"x":1.3281,"h":1.03185},{"x":1.3359,"h":1.03156},{"x":1.3438,"h":1.03126},{"x":1.3516,"h":1.03096},{"x":1.3594,"h":1.03066},{"x":1.3672,"h":1.03036},
{"x":1.375,"h":1.03007},{"x":1.3828,"h":1.02977},{"x":1.3906,"h":1.02947},{"x":1.3984,"h":1.02917},{"x":1.4063,"h":1.02887},{"x":1.4141,"h":1.02857},{"x":1.4219,"h":1.02828},{"x":1.4297,"h":1.02798},
{"x":1.4375,"h":1.02768},{"x":1.4453,"h":1.02738},{"x":1.4531,"h":1.02708},{"x":1.4609,"h":1.02678},{"x":1.4688,"h":1.02648},{"x":1.4766,"h":1.02617},{"x":1.4844,"h":1.02587},{"x":1.4922,"h":1.02557},
{"x":1.5,"h":1.02527},{"x":1.5078,"h":1.02497},{"x":1.5156,"h":1.02466},{"x":1.5234,"h":1.02436},{"x":1.5313,"h":1.02406},{"x":1.5391,"h":1.02376},{"x":1.5469,"h":1.02345},{"x":1.5547,"h":1.02315},
{"x":1.5625,"h":1.02285},{"x":1.5703,"h":1.02255},{"x":1.5781,"h":1.02224},{"x":1.5859,"h":1.02194},{"x":1.5938,"h":1.02163},{"x":1.6016,"h":1.02133},{"x":1.6094,"h":1.02102},{"x":1.6172,"h":1.02072},
{"x":1.625,"h":1.02041},{"x":1.6328,"h":1.0201},{"x":1.6406,"h":1.0198},{"x":1.6484,"h":1.01949},{"x":1.6563,"h":1.01919},{"x":1.6641,"h":1.01888},{"x":1.6719,"h":1.01857},{"x":1.6797,"h":1.01827},
{"x":1.6875,"h":1.01796},{"x":1.6953,"h":1.01765},{"x":1.7031,"h":1.01734},{"x":1.7109,"h":1.01703},{"x":1.7188,"h":1.01672},{"x":1.7266,"h":1.01641},{"x":1.7344,"h":1.0161},{"x":1.7422,"h":1.0158},
{"x":1.75,"h":1.01549},{"x":1.7578,"h":1.01518},{"x":1.7656,"h":1.01487},{"x":1.7734,"h":1.01456},{"x":1.7813,"h":1.01425},{"x":1.7891,"h":1.01394},{"x":1.7969,"h":1.01363},{"x":1.8047,"h":1.01332},
{"x":1.8125,"h":1.01301},{"x":1.8203,"h":1.0127},{"x":1.8281,"h":1.01239},{"x":1.8359,"h":1.01208},{"x":1.8438,"h":1.01177},{"x":1.8516,"h":1.01145},{"x":1.8594,"h":1.01114},{"x":1.8672,"h":1.01083},
{"x":1.875,"h":1.01052},{"x":1.8828,"h":1.01021},{"x":1.8906,"h":1.00989},{"x":1.8984,"h":1.00958},{"x":1.9063,"h":1.00926},{"x":1.9141,"h":1.00895},{"x":1.9219,"h":1.00864},{"x":1.9297,"h":1.00832},
{"x":1.9375,"h":1.00801},{"x":1.9453,"h":1.00769},{"x":1.9531,"h":1.00738},{"x":1.9609,"h":1.00706},{"x":1.9688,"h":1.00675},{"x":1.9766,"h":1.00643},{"x":1.9844,"h":1.00611},{"x":1.9922,"h":1.0058}],
"truth": [{"x":-2,"h":1.13778},{"x":-1.9375,"h":1.13618},{"x":-1.875,"h":1.13457},{"x":-1.8125,"h":1.13294},{"x":-1.75,"h":1.13129},{"x":-1.6875,"h":1.12963},{"x":-1.625,"h":1.12796},{"x":-1.5625,"h":1.12627},{"x":-1.5,"h":1.12457},{"x":-1.4375,"h":1.12285},{"x":-1.375,"h":1.12112},{"x":-1.3125,"h":1.11937},{"x":-1.25,"h":1.11761},{"x":-1.1875,"h":1.11584},{"x":-1.125,"h":1.11405},{"x":-1.0625,"h":1.11224},{"x":-1,"h":1.11042},{"x":-0.9375,"h":1.10859},{"x":-0.875,"h":1.10674},{"x":-0.8125,"h":1.10487},{"x":-0.75,"h":1.10299},{"x":-0.6875,"h":1.1011},{"x":-0.625,"h":1.09919},{"x":-0.5625,"h":1.09727},{"x":-0.5,"h":1.09533},{"x":-0.4375,"h":1.09338},{"x":-0.375,"h":1.09141},{"x":-0.3125,"h":1.08943},{"x":-0.25,"h":1.08743},{"x":-0.1875,"h":1.08542},{"x":-0.125,"h":1.0834},{"x":-0.0625,"h":1.08136},{"x":0,"h":1.0793},{"x":0.0625,"h":1.07723},{"x":0.125,"h":1.07515},{"x":0.1875,"h":1.07305},{"x":0.25,"h":1.07093},{"x":0.3125,"h":1.0688},{"x":0.375,"h":1.06666},{"x":0.4375,"h":1.0645},{"x":0.5,"h":1.06233},{"x":0.5625,"h":1.06014},{"x":0.625,"h":1.05794},{"x":0.6875,"h":1.05572},{"x":0.75,"h":1.05349},{"x":0.8125,"h":1.05125},{"x":0.875,"h":1.04899},{"x":0.9375,"h":1.04671},{"x":1,"h":1.04442},{"x":1.0625,"h":1.04212},{"x":1.125,"h":1.0398},{"x":1.1875,"h":1.03746},{"x":1.25,"h":1.03511},{"x":1.3125,"h":1.03275},{"x":1.375,"h":1.03037},{"x":1.4375,"h":1.02798},{"x":1.5,"h":1.02557},{"x":1.5625,"h":1.02315},{"x":1.625,"h":1.02071},{"x":1.6875,"h":1.01826},{"x":1.75,"h":1.01579},{"x":1.8125,"h":1.01331},{"x":1.875,"h":1.01082},{"x":1.9375,"h":1.00831},{"x":2,"h":1.00578}]
},
"encoding": {
  "x": {"field": "x", "type": "quantitative", "scale": {"domain": [-2.2, 2.2], "nice": false, "zero": false}, "axis": {"title": "x", "values": [-2, -1.5, -1, -0.5, 0, 0.5, 1, 1.5, 2], "format": ".1f", "labelPadding": 6, "titlePadding": 3}},
  "y": {"field": "h", "type": "quantitative", "scale": {"domain": [0.9992, 1.14438], "nice": false, "zero": false}, "axis": {"title": "h", "values": [1.0, 1.02, 1.04, 1.06, 1.08, 1.1, 1.12, 1.14], "format": ".2f", "labelPadding": 5, "titlePadding": 8}}
},
"layer": [
  {"data": {"name": "n16"}, "mark": {"type": "point", "filled": true, "shape": "circle", "size": 20, "opacity": 1, "strokeWidth": 0},
   "encoding": {"color": {"datum": "Network sol disc 16", "type": "nominal",
     "scale": {"domain": ["Network sol disc 16", "Network sol disc 32", "Network sol disc 64", "Network sol disc 128", "Network sol disc 256", "Network sol disc 512", "True sol"], "range": ["#1f77b4", "#ff7f0e", "#2ca02c", "#d62728", "#9467bd", "#8c564b", "rgba(0,0,0,0)"]},
     "legend": {"title": null, "orient": "none", "legendX": 261, "legendY": 7, "padding": 3, "rowPadding": 5.7, "symbolType": "circle", "symbolSize": 11, "symbolStrokeWidth": 0, "symbolOpacity": 1, "symbolOffset": 9.7, "labelOffset": 14.6,
       "strokeColor": "#cccccc", "fillColor": "rgba(255,255,255,0.8)", "cornerRadius": 3,
       "labelFont": "DejaVu Sans", "labelFontSize": 12.2, "labelColor": "black", "labelLimit": 300}}}},
  {"data": {"name": "n32"}, "mark": {"type": "point", "filled": true, "shape": "circle", "size": 20, "opacity": 1, "strokeWidth": 0}, "encoding": {"color": {"datum": "Network sol disc 32", "type": "nominal"}}},
  {"data": {"name": "n64"}, "mark": {"type": "point", "filled": true, "shape": "circle", "size": 20, "opacity": 1, "strokeWidth": 0}, "encoding": {"color": {"datum": "Network sol disc 64", "type": "nominal"}}},
  {"data": {"name": "n128"}, "mark": {"type": "point", "filled": true, "shape": "circle", "size": 20, "opacity": 1, "strokeWidth": 0}, "encoding": {"color": {"datum": "Network sol disc 128", "type": "nominal"}}},
  {"data": {"name": "n256"}, "mark": {"type": "point", "filled": true, "shape": "circle", "size": 20, "opacity": 1, "strokeWidth": 0}, "encoding": {"color": {"datum": "Network sol disc 256", "type": "nominal"}}},
  {"data": {"name": "n512"}, "mark": {"type": "point", "filled": true, "shape": "circle", "size": 20, "opacity": 1, "strokeWidth": 0}, "encoding": {"color": {"datum": "Network sol disc 512", "type": "nominal"}}},
  {"data": {"name": "truth"}, "mark": {"type": "line", "strokeWidth": 1.8, "interpolate": "linear"},
   "encoding": {"stroke": {"datum": "True sol", "type": "nominal", "scale": {"domain": ["True sol"], "range": ["#1f77b4"]},
     "legend": {"title": null, "orient": "none", "legendX": 264.65, "legendY": 117.6, "padding": 0, "symbolType": "stroke", "symbolSize": 640, "symbolStrokeWidth": 1.8, "symbolOffset": 0, "labelExpr": "''", "labelOpacity": 0, "labelFontSize": 6, "zindex": 2}}}}
],
"config": {
  "view": {"stroke": "black", "strokeWidth": 1},
  "font": "DejaVu Sans",
  "axis": {"domain": false, "grid": false, "ticks": true, "tickColor": "black", "tickWidth": 1, "tickSize": 5, "labelFont": "DejaVu Sans", "labelFontSize": 12, "labelColor": "black", "titleFont": "DejaVu Sans", "titleFontSize": 12, "titleFontWeight": "normal", "titleColor": "black"}
}
}
